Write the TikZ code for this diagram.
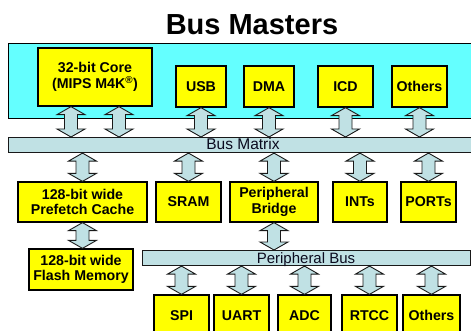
\documentclass[tikz,border=0pt]{standalone}
\usepackage{fontspec}
\setmainfont{Liberation Sans}
\usetikzlibrary{calc}
\definecolor{cyanbg}{RGB}{100,255,255}
\definecolor{boxyel}{RGB}{255,255,0}
\definecolor{busfill}{RGB}{192,225,228}
\definecolor{buslbl}{RGB}{10,10,30}
\tikzset{
  unitbox/.style={draw=black, line width=1.3pt, fill=boxyel, inner sep=0pt, align=center,
    font=\bfseries\fontsize{14.2}{15.6}\selectfont},
  busbar/.style={draw=black!90, line width=1.1pt, fill=busfill},
  buslabel/.style={anchor=base, text=buslbl, inner sep=0pt},
  dbl/.style={draw=black!90, line width=0.9pt, fill=busfill, line join=miter,
    to path={let \p1=(\tikztostart), \p2=(\tikztotarget) in
      (\x1,\y1) -- (\x1+14pt,\y1-8pt) -- (\x1+6.5pt,\y1-8pt) -- (\x1+6.5pt,\y2+8pt)
      -- (\x1+14pt,\y2+8pt) -- (\x1,\y2) -- (\x1-14pt,\y2+8pt) -- (\x1-6.5pt,\y2+8pt)
      -- (\x1-6.5pt,\y1-8pt) -- (\x1-14pt,\y1-8pt) -- cycle}}
}
\begin{document}
\begin{tikzpicture}[x=1pt,y=-1pt]
\useasboundingbox (0,0) rectangle (471,331);
\clip (0,0) rectangle (471,331);
% title
\node[anchor=base, font=\bfseries\fontsize{29}{32}\selectfont, inner sep=0pt] (title) at (252,35) {Bus Masters};
% cyan master area
\node[draw=black, line width=1.3pt, fill=cyanbg, minimum width=470pt, minimum height=75pt, inner sep=0pt, anchor=north west] (masters) at (8,43) {};
% bus bars
\node[busbar, minimum width=470pt, minimum height=15pt, inner sep=0pt, anchor=north west] (bm) at (8,137) {};
\node[buslabel, font=\fontsize{15.5}{16}\selectfont] (bmlbl) at (243,150) {Bus Matrix};
\node[busbar, minimum width=328pt, minimum height=15pt, inner sep=0pt, anchor=north west] (pb) at (142,250) {};
% masters
\node[unitbox, minimum width=114pt, minimum height=58pt] (core) at (95,77) {32-bit Core\\(MIPS M4K\textsuperscript{\textregistered})};
\node[unitbox, minimum width=50pt, minimum height=41pt] (usb) at (201,86.5) {USB};
\node[unitbox, minimum width=50pt, minimum height=41pt] (dma) at (269,86.5) {DMA};
\node[unitbox, minimum width=55pt, minimum height=41pt] (icd) at (345.5,86.5) {ICD};
\node[unitbox, minimum width=55pt, minimum height=41pt] (othm) at (419.5,86.5) {Others};
% slaves
\node[unitbox, minimum width=129pt, minimum height=40pt] (pf) at (82.5,202) {128-bit wide\\Prefetch Cache};
\node[unitbox, minimum width=65pt, minimum height=40pt] (sram) at (188.5,202) {SRAM};
\node[unitbox, minimum width=88pt, minimum height=40pt] (br) at (274,202) {Peripheral\\Bridge};
\node[unitbox, minimum width=54pt, minimum height=40pt] (ints) at (360,202) {INTs};
\node[unitbox, minimum width=55pt, minimum height=40pt] (ports) at (428.5,202) {PORTs};
\node[unitbox, minimum width=104pt, minimum height=41pt] (fl) at (81,269.5) {128-bit wide\\Flash Memory};
% peripherals
\node[unitbox, minimum width=55pt, minimum height=41pt] (spi) at (181.5,315.5) {SPI};
\node[unitbox, minimum width=55pt, minimum height=41pt] (uart) at (241.5,315.5) {UART};
\node[unitbox, minimum width=53pt, minimum height=41pt] (adc) at (304.5,315.5) {ADC};
\node[unitbox, minimum width=55pt, minimum height=41pt] (rtcc) at (369.5,315.5) {RTCC};
\node[unitbox, minimum width=57pt, minimum height=41pt] (oth) at (431.5,315.5) {Others};
\node[buslabel, font=\fontsize{15}{16}\selectfont] (pblbl) at (306,263) {Peripheral Bus};
% arrows
\coordinate (c1) at ([xshift=-24pt]core.south);
\coordinate (c2) at ([xshift=24pt]core.south);
\draw[dbl] (c1) to (c1 |- bm.north);
\draw[dbl] (c2) to (c2 |- bm.north);
\draw[dbl] (usb.south) to (usb.south |- bm.north);
\draw[dbl] (dma.south) to (dma.south |- bm.north);
\draw[dbl] (icd.south) to (icd.south |- bm.north);
\draw[dbl] (othm.south) to (othm.south |- bm.north);
\draw[dbl] (pf.north |- bm.south) to (pf.north);
\draw[dbl] (sram.north |- bm.south) to (sram.north);
\draw[dbl] (br.north |- bm.south) to (br.north);
\draw[dbl] (ints.north |- bm.south) to (ints.north);
\draw[dbl] (ports.north |- bm.south) to (ports.north);
\draw[dbl] (pf.south) to (pf.south |- fl.north);
\draw[dbl] (br.south) to (br.south |- pb.north);
\draw[dbl] (spi.north |- pb.south) to (spi.north);
\draw[dbl] (uart.north |- pb.south) to (uart.north);
\draw[dbl] (adc.north |- pb.south) to (adc.north);
\draw[dbl] (rtcc.north |- pb.south) to (rtcc.north);
\draw[dbl] (oth.north |- pb.south) to (oth.north);
\end{tikzpicture}
\end{document}
